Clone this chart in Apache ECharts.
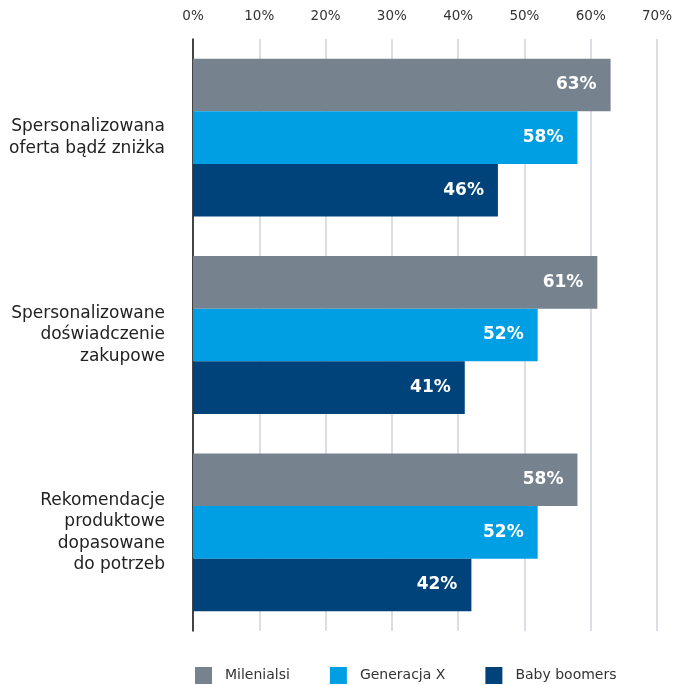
<!DOCTYPE html>
<html>
<head>
<meta charset="utf-8">
<script src="https://cdn.jsdelivr.net/npm/echarts@6/dist/echarts.min.js"></script>
<style>
  html, body { margin: 0; padding: 0; background: #fff; }
  #chart { width: 675px; height: 685px; }
</style>
</head>
<body>
<div id="chart"></div>
<script>
const categories = [
  'Spersonalizowana\noferta bądź zniżka',
  'Spersonalizowane\ndoświadczenie\nzakupowe',
  'Rekomendacje\nproduktowe\ndopasowane\ndo potrzeb'
];
const seriesNames = ['Milenialsi', 'Generacja X', 'Baby boomers'];
const milenialsi = [63, 61, 58];
const generacjaX = [58, 52, 52];
const babyBoomers = [46, 41, 42];

const colors = ['#76838f', '#009fe3', '#00437a'];
const font = '"DejaVu Sans", sans-serif';

const chart = echarts.init(document.getElementById('chart'));

const makeSeries = (name, data, color) => ({
  name,
  type: 'bar',
  data,
  barGap: '0%',
  barCategoryGap: '20%',
  itemStyle: { color },
  emphasis: { disabled: true },
  label: {
    show: true,
    position: 'insideRight',
    distance: 14,
    formatter: '{c}%',
    color: '#fff',
    fontFamily: font,
    fontWeight: 700,
    fontSize: 17
  }
});

chart.setOption({
  animation: false,
  color: colors,
  grid: { left: 193, right: 15, top: 39, bottom: 54 },
  xAxis: {
    type: 'value',
    position: 'top',
    min: 0,
    max: 70,
    interval: 10,
    axisLine: { show: false },
    axisTick: { show: false },
    splitLine: { show: true, lineStyle: { color: '#cfd3d9', width: 1.5 } },
    axisLabel: {
      formatter: '{value}%',
      color: '#333',
      fontFamily: font,
      fontSize: 13.5,
      margin: 16
    }
  },
  yAxis: {
    type: 'category',
    inverse: true,
    data: categories,
    axisLine: { show: true, lineStyle: { color: '#111', width: 1.5 } },
    axisTick: { show: false },
    axisLabel: {
      color: '#222',
      fontFamily: font,
      fontSize: 17,
      lineHeight: 21.5,
      align: 'right',
      margin: 28
    }
  },
  legend: {
    bottom: -4,
    left: 190,
    itemWidth: 17,
    itemHeight: 17,
    itemGap: 40,
    icon: 'rect',
    textStyle: { color: '#333', fontFamily: font, fontSize: 14, padding: [0, 0, 0, 8] },
    data: seriesNames
  },
  series: [
    makeSeries(seriesNames[0], milenialsi, colors[0]),
    makeSeries(seriesNames[1], generacjaX, colors[1]),
    makeSeries(seriesNames[2], babyBoomers, colors[2])
  ]
});
</script>
</body>
</html>
